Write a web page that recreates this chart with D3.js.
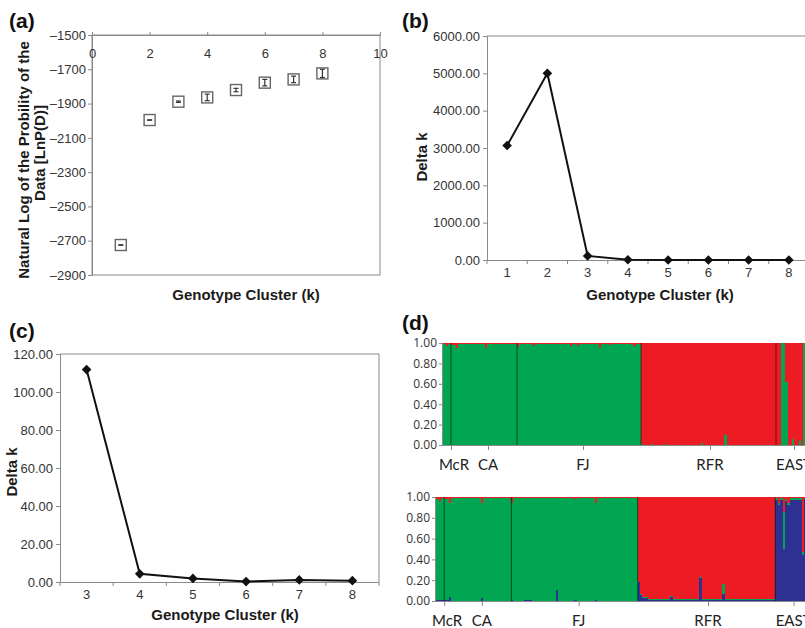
<!DOCTYPE html>
<html><head><meta charset="utf-8">
<script src="https://cdn.jsdelivr.net/npm/d3@7"></script>
<style>
html,body{margin:0;padding:0;background:#fff;}
svg{display:block;font-family:"Liberation Sans",Arial,sans-serif;}
</style></head>
<body>
<svg id="c" width="805" height="628"></svg>
<script>
// ---------- DATA ----------
// (a) ln P(D) by K
const kA = [1,2,3,4,5,6,7,8];
const lnPA = [-2725,-1996,-1889,-1864,-1821,-1778,-1759,-1724];
const sdA = [1,1,4,19,10,19,19,24];
const xTicksA = [0,2,4,6,8,10];
const yTicksA = [-1500,-1700,-1900,-2100,-2300,-2500,-2700,-2900];
// (b) Delta K, K=1..8
const kB = [1,2,3,4,5,6,7,8];
const deltaKB = [3065,5000,110,5,0,0,0,0];
const yTicksB = [0,1000,2000,3000,4000,5000,6000];
// (c) Delta K, K=3..8
const kC = [3,4,5,6,7,8];
const deltaKC = [111.8,4.3,1.9,0.2,1.1,0.7];
const yTicksC = [0,20,40,60,80,100,120];
// (d) STRUCTURE bar plots
const popNames = ["McR","CA","FJ","RFR","EAST"];
const popTicks = [8,45,140,267,351];       // individual index of label tick
const popBounds = [8,74,198,333];          // individual index of population boundaries
const nInd = 373;
const yTicksD = [0,0.2,0.4,0.6,0.8,1.0];
// K=2 runs: [count, green, red]
const runsK2 = [
 [3,0.99,0.01],[2,0.97,0.03],[3,0.99,0.01],
 [5,0.98,0.02],[2,0.95,0.05],[27,0.99,0.01],[2,0.95,0.05],[30,0.99,0.01],
 [2,0.96,0.04],[14,0.99,0.01],[2,0.97,0.03],[35,0.99,0.01],[2,0.97,0.03],[5,0.99,0.01],[2,0.97,0.03],[20,0.99,0.01],[2,0.95,0.05],[8,0.99,0.01],[2,0.98,0.02],[22,0.99,0.01],[3,0.97,0.03],[5,0.99,0.01],
 [2,0.01,0.99],[8,0,1],[2,0.01,0.99],[12,0,1],[2,0.01,0.99],[34,0,1],[2,0.02,0.98],[21,0,1],[3,0.10,0.90],[49,0,1],
 [5,0,1],[4,1,0],[3,0.62,0.38],[4,0,1],[2,0.06,0.94],[5,0,1],[2,0.05,0.95],[2,0,1],[2,1,0],[11,0,1]
];
// K=3 runs: [count, blue, green, red]
const runsK3 = [
 [3,0.01,0.97,0.02],[2,0.01,0.95,0.04],[3,0.01,0.98,0.01],
 [5,0.01,0.97,0.02],[2,0.04,0.91,0.05],[29,0.005,0.985,0.01],[2,0.03,0.92,0.05],[28,0.005,0.985,0.01],
 [2,0.01,0.94,0.05],[10,0.005,0.985,0.01],[8,0.015,0.975,0.01],[24,0.005,0.985,0.01],[2,0.11,0.88,0.01],[15,0.005,0.985,0.01],[3,0.01,0.97,0.02],[18,0.005,0.985,0.01],[2,0.01,0.94,0.05],[40,0.005,0.985,0.01],
 [2,0.19,0,0.81],[2,0.06,0.01,0.93],[6,0.03,0.01,0.96],[10,0.015,0.01,0.975],[12,0.01,0.01,0.98],[3,0.04,0.01,0.95],[25,0.01,0.01,0.98],[3,0.22,0.01,0.77],[20,0.01,0.01,0.98],[3,0.07,0.10,0.83],[49,0.01,0.01,0.98],
 [3,0.97,0.02,0.01],[2,0.93,0.02,0.05],[3,0.97,0.02,0.01],[2,0.50,0.36,0.14],[2,0.96,0.02,0.02],[2,0.93,0.02,0.05],[12,0.97,0.02,0.01],[2,0.45,0.02,0.53],[12,0.98,0.01,0.01]
];

// ---------- STYLE ----------
const AX = "#8a8a8a", TXT = "#333", TITLE = "#1a1a1a";
const GREEN = "#00a651", RED = "#ed1c24", BLUE = "#2e3192";
const svg = d3.select("#c");

function styleAxis(g, fs, family){
  g.selectAll(".domain").attr("stroke", AX);
  g.selectAll(".tick line").attr("stroke", AX);
  g.selectAll("text").attr("fill", TXT).style("font-size", fs+"px")
    .style("font-family", family || '"Liberation Sans",Arial,sans-serif');
}
function panelLabel(t, x, y){
  svg.append("text").attr("x",x).attr("y",y).text(t)
    .style("font-weight","bold").style("font-size","21px").attr("fill","#111");
}
function title(t, x, y, rot){
  const el = svg.append("text").text(t).attr("text-anchor","middle")
    .style("font-weight","bold").style("font-size","15px").attr("fill",TITLE);
  if(rot) el.attr("transform",`translate(${x},${y}) rotate(-90)`);
  else el.attr("x",x).attr("y",y);
}
const dash = v => (v<0 ? "\u2013"+Math.abs(v) : ""+v);

// ---------- PANEL (a) ----------
{
  const x = d3.scaleLinear().domain([0,10]).range([92,380]);
  const y = d3.scaleLinear().domain([-2900,-1500]).range([275,35]);
  svg.append("rect").attr("x",92).attr("y",35).attr("width",288).attr("height",240)
    .attr("fill","none").attr("stroke",AX);
  const gy = svg.append("g").attr("transform","translate(92,0)")
    .call(d3.axisLeft(y).tickValues(yTicksA).tickFormat(dash).tickSize(4).tickPadding(2));
  styleAxis(gy, 13);
  const gx = svg.append("g").attr("transform","translate(0,35)")
    .call(d3.axisBottom(x).tickValues(xTicksA).tickSize(-3).tickPadding(14));
  styleAxis(gx, 13);
  gx.selectAll(".tick line").attr("y2",-3);
  const pts = svg.append("g");
  kA.forEach((k,i)=>{
    const cx = x(k), cy = y(lnPA[i]);
    pts.append("rect").attr("x",cx-5.5).attr("y",cy-5.5).attr("width",11).attr("height",11)
      .attr("fill","#fff").attr("stroke","#666").attr("stroke-width",1.4);
    const y1 = y(lnPA[i]+sdA[i]), y2 = y(lnPA[i]-sdA[i]);
    pts.append("line").attr("x1",cx).attr("x2",cx).attr("y1",y1).attr("y2",y2).attr("stroke","#333").attr("stroke-width",1.2);
    pts.append("line").attr("x1",cx-2.5).attr("x2",cx+2.5).attr("y1",y1).attr("y2",y1).attr("stroke","#333").attr("stroke-width",1.2);
    pts.append("line").attr("x1",cx-2.5).attr("x2",cx+2.5).attr("y1",y2).attr("y2",y2).attr("stroke","#333").attr("stroke-width",1.2);
  });
  panelLabel("(a)",9,28);
  svg.append("text").attr("transform","translate(29,160) rotate(-90)").attr("text-anchor","middle")
    .style("font-weight","bold").style("font-size","15px").attr("fill",TITLE).text("Natural Log of the Probility of the");
  svg.append("text").attr("transform","translate(45,153) rotate(-90)").attr("text-anchor","middle")
    .style("font-weight","bold").style("font-size","15px").attr("fill",TITLE).text("Data [LnP(D)]");
  title("Genotype Cluster (k)",246,300);
}

// ---------- line panels (b), (c) ----------
function linePanel(ks, vals, ticks, x0, x1, yTop, yBot, yMax, frameRight){
  const x = d3.scaleBand().domain(ks).range([x0,x1]);
  const y = d3.scaleLinear().domain([0,yMax]).range([yBot,yTop]);
  svg.append("line").attr("x1",x0).attr("x2",Math.min(x1,805)).attr("y1",yTop).attr("y2",yTop).attr("stroke",AX);
  if(frameRight) svg.append("line").attr("x1",x1).attr("x2",x1).attr("y1",yTop).attr("y2",yBot).attr("stroke",AX);
  const gy = svg.append("g").attr("transform",`translate(${x0},0)`)
    .call(d3.axisLeft(y).tickValues(ticks).tickFormat(d3.format(".2f")).tickSize(4).tickPadding(3));
  styleAxis(gy, 13);
  const gx = svg.append("g").attr("transform",`translate(0,${yBot})`)
    .call(d3.axisBottom(x).tickSize(0).tickPadding(8));
  styleAxis(gx, 13);
  gx.select(".domain").attr("d",`M${x0},0.5H${x1}`);
  const bounds = ks.map(k=>x(k)).concat([x1]);
  svg.append("g").selectAll("line").data(bounds).join("line")
    .attr("x1",d=>d).attr("x2",d=>d).attr("y1",yBot).attr("y2",yBot+4).attr("stroke",AX);
  const line = d3.line().x((d,i)=>x(ks[i])+x.bandwidth()/2).y(d=>y(d));
  svg.append("path").datum(vals).attr("d",line).attr("fill","none").attr("stroke","#111").attr("stroke-width",2);
  svg.append("g").selectAll("path").data(vals).join("path")
    .attr("d",d3.symbol(d3.symbolSquare,46))
    .attr("transform",(d,i)=>`translate(${x(ks[i])+x.bandwidth()/2},${y(d)}) rotate(45)`)
    .attr("fill","#111");
}
linePanel(kB, deltaKB, yTicksB, 487, 809, 36, 260, 6000, false);
panelLabel("(b)",402,28);
title("Delta k",427,157,true);
title("Genotype Cluster (k)",660,300);

linePanel(kC, deltaKC, yTicksC, 60, 379, 354, 582, 120, true);
panelLabel("(c)",9,338);
title("Delta k",17,472,true);
title("Genotype Cluster (k)",225,620);

// ---------- PANEL (d) ----------
function structPanel(runs, comps, colors, x0, x1, yTop, yBot, labelY){
  const x = d3.scaleLinear().domain([0,nInd]).range([x0,x1]);
  const y = d3.scaleLinear().domain([0,1]).range([yBot,yTop]);
  const g = svg.append("g").attr("shape-rendering","crispEdges");
  let idx = 0;
  runs.forEach(r=>{
    const n = r[0];
    let acc = 0;
    comps.forEach((c,j)=>{
      const v = r[1+j];
      if(v>0){
        g.append("rect").attr("x",x(idx)).attr("width",x(idx+n)-x(idx)+0.6)
          .attr("y",y(acc+v)).attr("height",y(acc)-y(acc+v)+0.3).attr("fill",colors[j]);
      }
      acc += v;
    });
    idx += n;
  });
  svg.append("g").selectAll("line").data(popBounds).join("line")
    .attr("x1",d=>x(d)).attr("x2",d=>x(d)).attr("y1",yTop).attr("y2",yBot)
    .attr("stroke","#000").attr("stroke-opacity",0.55).attr("stroke-width",1);
  const gy = svg.append("g").attr("transform",`translate(${x0},0)`)
    .call(d3.axisLeft(y).tickValues(yTicksD).tickFormat(d3.format(".2f")).tickSize(4).tickPadding(2));
  styleAxis(gy, 12, '"Open Sans",sans-serif');
  gy.select(".domain").attr("d",`M-0.5,${yBot}V${yTop}`);
  const gx = svg.append("g").attr("transform",`translate(0,${yBot})`)
    .call(d3.axisBottom(x).tickValues(popTicks).tickFormat("").tickSize(5));
  styleAxis(gx, 12);
  gx.select(".domain").attr("d",`M${x0},0.5H805`);
  svg.append("g").selectAll("text").data(popNames).join("text")
    .attr("x",(d,i)=>x(popTicks[i])+(i===0?3:0)).attr("y",labelY).attr("text-anchor","middle")
    .style("font-family","Lato,sans-serif").style("font-size","15px").attr("fill","#222").text(d=>d);
}
structPanel(runsK2, ["g","r"], [GREEN,RED], 443, 816, 343, 445, 470);
structPanel(runsK3, ["b","g","r"], [BLUE,GREEN,RED], 436, 816, 497, 601, 626);
panelLabel("(d)",402,330);
</script>
</body></html>
